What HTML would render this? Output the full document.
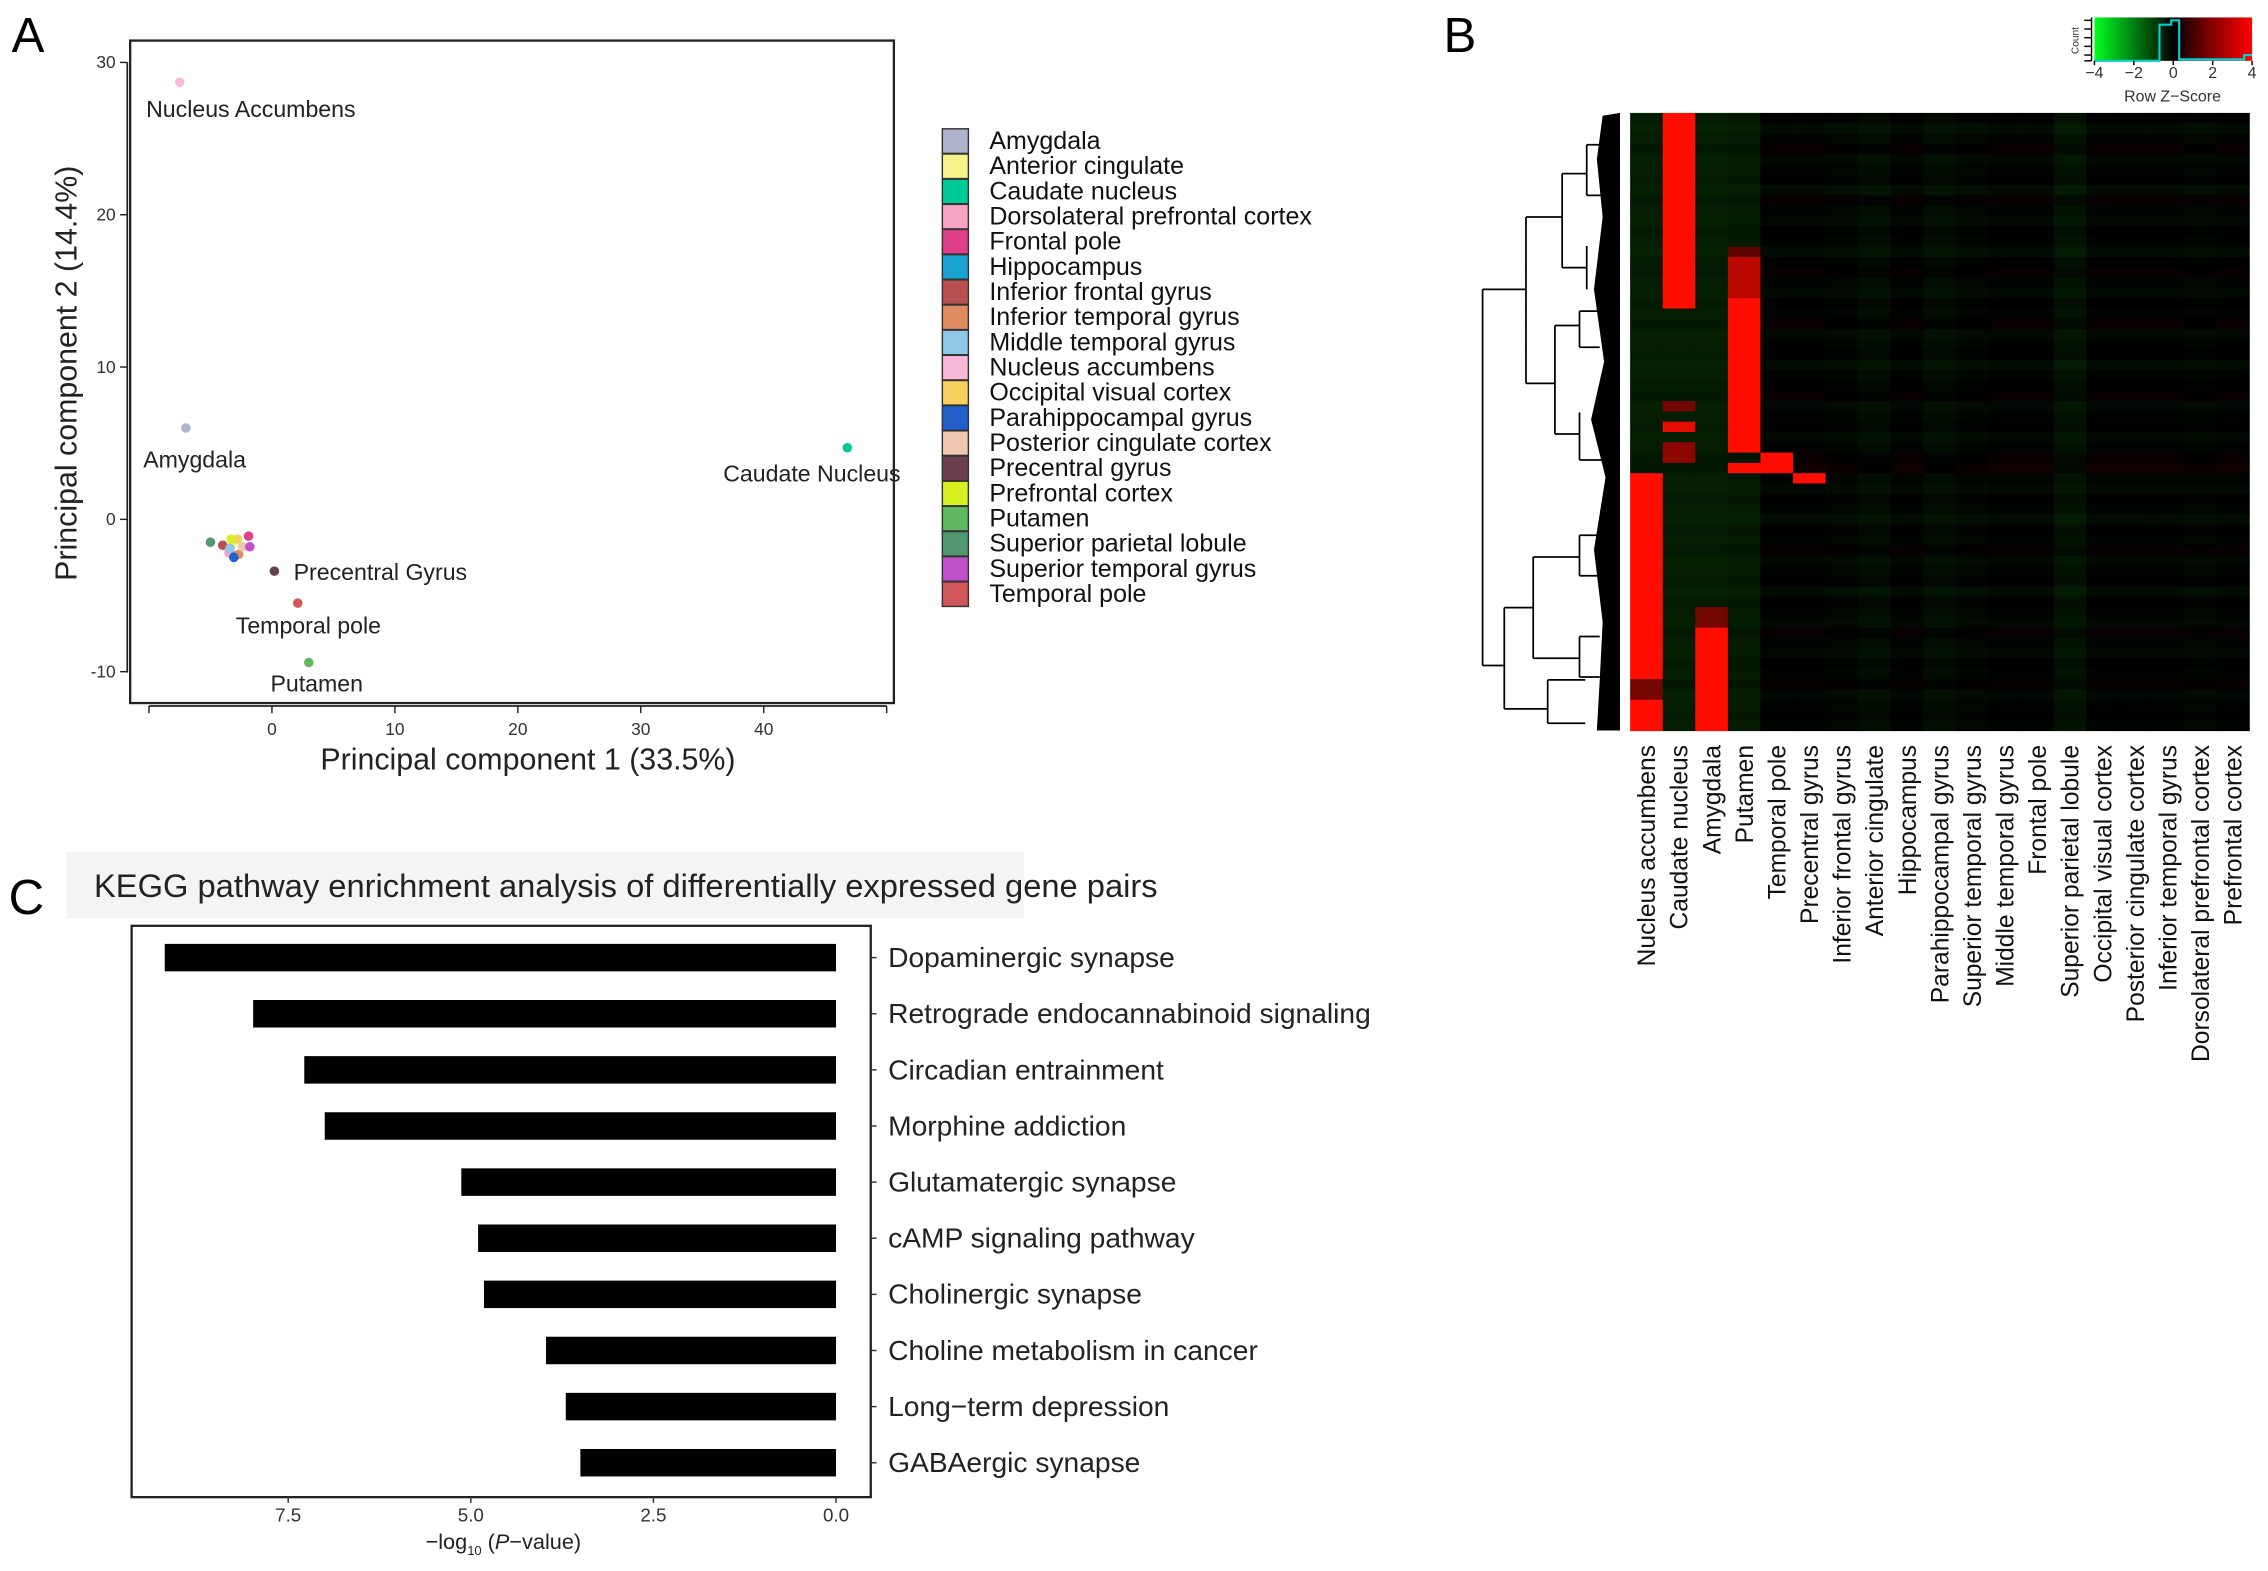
<!DOCTYPE html>
<html><head><meta charset="utf-8"><style>
html,body{margin:0;padding:0;background:#fff}
svg{display:block;font-family:"Liberation Sans",sans-serif}
</style></head><body>
<svg id="fig" width="2268" height="1571" viewBox="0 0 1568 1086" xmlns="http://www.w3.org/2000/svg">
<rect width="1568" height="1086" fill="#fff"/>
<text x="8" y="36" font-size="34">A</text>
<text x="998" y="36" font-size="34">B</text>
<text x="6" y="632" font-size="34">C</text>
<g id="pca"></g>
<g id="legend"></g>
<g id="heat"></g>
<g id="kegg"></g>
</svg>
<script>
// ---------- Panel A data ----------
const regions = ["Amygdala","Anterior cingulate","Caudate nucleus","Dorsolateral prefrontal cortex","Frontal pole","Hippocampus","Inferior frontal gyrus","Inferior temporal gyrus","Middle temporal gyrus","Nucleus accumbens","Occipital visual cortex","Parahippocampal gyrus","Posterior cingulate cortex","Precentral gyrus","Prefrontal cortex","Putamen","Superior parietal lobule","Superior temporal gyrus","Temporal pole"];
const regionColors = ["#b0b3cc","#f7f28a","#00c896","#f7a3c4","#e0408a","#1aa3d1","#b85050","#e08a60","#90c8ea","#f8b8d8","#f8d060","#2060c8","#f0c8b0","#6a4050","#d8f020","#60b860","#509870","#c050c8","#d05858"];
const pc1 = [-7,-3.2,46.8,-3.5,-1.9,-3.0,-4.0,-2.7,-3.4,-7.5,-2.8,-3.1,-2.4,0.2,-3.3,3.0,-5.0,-1.8,2.1];
const pc2 = [6,-1.6,4.7,-2.2,-1.1,-2.4,-1.7,-2.3,-1.9,28.7,-1.3,-2.5,-1.8,-3.4,-1.3,-9.4,-1.5,-1.8,-5.5];
const pcXTicks = [0,10,20,30,40];
const pcYTicks = [-10,0,10,20,30];
const pointLabels = [["Nucleus Accumbens",101,81],["Amygdala",99,323],["Caudate Nucleus",500,333],["Precentral Gyrus",203,401],["Temporal pole",163,438],["Putamen",187,478]];
// ---------- Panel B data ----------
const heatCols = ["Nucleus accumbens","Caudate nucleus","Amygdala","Putamen","Temporal pole","Precentral gyrus","Inferior frontal gyrus","Anterior cingulate","Hippocampus","Parahippocampal gyrus","Superior temporal gyrus","Middle temporal gyrus","Frontal pole","Superior parietal lobule","Occipital visual cortex","Posterior cingulate cortex","Inferior temporal gyrus","Dorsolateral prefrontal cortex","Prefrontal cortex"];
const nRows = 60;
const colBase = [-0.45,-0.45,-0.45,-0.4,-0.05,-0.05,-0.1,-0.2,-0.05,-0.2,-0.1,-0.05,-0.05,-0.3,-0.05,-0.05,-0.05,-0.1,-0.05];
const rowShift = [0.1,-0.2,0,0.2,-0.1,0,0.1,-0.2,0.2,0,-0.1,0.1,0,-0.2,0.1,0.2,0,-0.1,0.1,0,0.2,-0.1,0,0.1,-0.2,0,0.1,0.2,-0.1,0,0.1,-0.1,0,0.2,0.3,0,-0.1,0.1,0,-0.2,0.1,0,0.2,-0.1,0,0.1,-0.2,0.1,0,-0.1,0.2,0,-0.1,0.1,0,0.2,-0.1,0,0.1,0];
// [column, startRow, endRow(inclusive), z]
const highBlocks = [[1,0,17,4],[1,18,18,3],[3,13,13,0.8],[3,14,17,1.6],[3,18,32,4],[1,28,28,1],[1,30,30,2],[1,32,33,1.2],[4,33,34,4],[5,35,35,3],[3,34,34,3],[0,35,59,4],[0,53,54,2.5],[0,55,56,1],[0,57,58,2.5],[2,48,49,1],[2,50,59,4],[2,51,52,2.5]];
const zTicks = [-4,-2,0,2,4];
// ---------- Panel C data ----------
const pathways = ["Dopaminergic synapse","Retrograde endocannabinoid signaling","Circadian entrainment","Morphine addiction","Glutamatergic synapse","cAMP signaling pathway","Cholinergic synapse","Choline metabolism in cancer","Long\u2212term depression","GABAergic synapse"];
const negLogP = [9.19,7.98,7.28,7.0,5.13,4.9,4.82,3.97,3.7,3.5];
const keggTicks = [7.5,5.0,2.5,0.0];

const NS="http://www.w3.org/2000/svg";
function mk(parent,tag,attrs,text){const e=document.createElementNS(NS,tag);for(const k in attrs)e.setAttribute(k,attrs[k]);if(text!==undefined)e.textContent=text;parent.appendChild(e);return e;}

// ----- Panel A -----
const pca=document.getElementById('pca');
const ax=v=>188+v*8.5, ay=v=>359-v*10.53;
let fr=mk(pca,'rect',{x:90,y:28,width:528,height:458,fill:'none',stroke:'#222','stroke-width':1.6});


mk(pca,'line',{x1:103,y1:488,x2:613,y2:488,stroke:'#222','stroke-width':1.2});
mk(pca,'line',{x1:88,y1:43,x2:88,y2:465,stroke:'#222','stroke-width':1.2});
[-10].concat(pcXTicks,[50]).forEach(v=>{mk(pca,'line',{x1:ax(v),y1:488,x2:ax(v),y2:493,stroke:'#222'});});
pcXTicks.forEach(v=>{const t=mk(pca,'text',{x:ax(v),y:508,'font-size':12,'text-anchor':'middle',fill:'#333'},v);

});
pcYTicks.forEach(v=>{mk(pca,'line',{x1:83,y1:ay(v),x2:88,y2:ay(v),stroke:'#222'});const t=mk(pca,'text',{x:80,y:ay(v)+4,'font-size':12,'text-anchor':'end',fill:'#333'},v);

});
let xt=mk(pca,'text',{x:365,y:532,'font-size':21,'text-anchor':'middle',fill:'#222'},'Principal component 1 (33.5%)');


let yt=mk(pca,'text',{x:0,y:0,'font-size':21,'text-anchor':'middle',fill:'#222',transform:'translate(53,258) rotate(-90)'},'Principal component 2 (14.4%)');


regions.forEach((r,i)=>{const c=mk(pca,'circle',{cx:ax(pc1[i]),cy:ay(pc2[i]),r:3.3,fill:regionColors[i]});

});
pointLabels.forEach(p=>{const t=mk(pca,'text',{x:p[1],y:p[2],'font-size':16,fill:'#222'},p[0]);

});
// legend
const lg=document.getElementById('legend');
regions.forEach((r,i)=>{const y=89+i*17.4;
const s=mk(lg,'rect',{x:651.5,y:y,width:18,height:17,fill:regionColors[i],stroke:'#333','stroke-width':1});


const t=mk(lg,'text',{x:684,y:y+14,'font-size':17.3,fill:'#111'},r);

});

// ----- Panel B -----
const hg=document.getElementById('heat');
const hx0=1127,hx1=1555,hy0=78,hy1=505;
const cw=(hx1-hx0)/heatCols.length, rh=(hy1-hy0)/nRows;
function zcol(z){z=Math.max(-4,Math.min(4,z));if(z>=0){const r=Math.round(255*Math.min(1,z/2.2));return `rgb(${r},${Math.round(r*0.05)},0)`;}const g=Math.round(255*(-z/4));return `rgb(${Math.round(g*0.15)},${g},${Math.round(g*0.1)})`;}
const M=[];for(let r=0;r<nRows;r++){M.push(heatCols.map((c,j)=>colBase[j]+rowShift[r]*(j<4?0.3:0.6)));}
highBlocks.forEach(b=>{for(let r=b[1];r<=b[2];r++)M[r][b[0]]=b[3];});
for(let r=0;r<nRows;r++)for(let j=0;j<heatCols.length;j++){
const c=mk(hg,'rect',{x:hx0+j*cw,y:hy0+r*rh,width:cw+0.4,height:rh+0.4,fill:zcol(M[r][j])});

}
heatCols.forEach((n,j)=>{const t=mk(hg,'text',{x:0,y:0,'font-size':17,'text-anchor':'end',fill:'#111',transform:`translate(${hx0+(j+0.5)*cw+6},515) rotate(-90)`},n);

});
// dendrogram
const dg=mk(hg,'g',{fill:'none',stroke:'#000','stroke-width':1.2});


mk(hg,'path',{d:'M1108,80 L1120,78 L1120,505 L1104,505 L1106,470 L1108,430 L1102,380 L1110,330 L1100,290 L1109,250 L1102,200 L1108,150 L1104,110 Z',fill:'#000'});
mk(dg,'path',{d:'M1025,200 V460 M1025,200 H1055 M1025,460 H1040 M1055,150 V265 M1055,150 H1080 M1055,265 H1075 M1075,225 V300 M1075,225 H1092 M1075,300 H1092 M1080,120 V185 M1080,120 H1097 M1080,185 H1097 M1040,420 V490 M1040,420 H1060 M1040,490 H1070 M1060,385 V455 M1060,385 H1092 M1060,455 H1092 M1070,470 V500 M1070,470 H1096 M1070,500 H1096 M1092,215 V240 M1092,285 V318 M1097,100 V135 M1097,170 V200 M1092,370 V398 M1092,440 V468 M1092,318 H1112 M1092,215 H1106 M1092,240 H1106 M1097,100 H1108 M1097,135 H1108 M1092,370 H1106 M1092,398 H1106 M1092,440 H1106 M1092,468 H1106'});
// color key
const kg=mk(hg,'g',{});


const defs=mk(kg,'defs',{});const gr=mk(defs,'linearGradient',{id:'zg',x1:0,x2:1,y1:0,y2:0});
mk(gr,'stop',{offset:0,'stop-color':'#00ff20'});mk(gr,'stop',{offset:0.5,'stop-color':'#000'});mk(gr,'stop',{offset:0.75,'stop-color':'#8a0000'});mk(gr,'stop',{offset:1,'stop-color':'#ff0000'});
const kx=z=>1448+(z+4)/8*109;
mk(kg,'rect',{x:1448,y:12,width:109,height:30,fill:'url(#zg)'});
mk(kg,'path',{d:`M1448,42 H${kx(-0.7)} V17 H${kx(-0.1)} V14 H${kx(0.3)} V41 H${kx(3.6)} V38 H1557`,fill:'none',stroke:'#00d0d0','stroke-width':1.5});
mk(kg,'line',{x1:1446,y1:12,x2:1446,y2:42,stroke:'#000'});
[14,20,26,32,38,42].forEach(y=>mk(kg,'line',{x1:1441,y1:y,x2:1446,y2:y,stroke:'#000'}));
zTicks.forEach(z=>{mk(kg,'line',{x1:kx(z),y1:42,x2:kx(z),y2:45,stroke:'#000'});const t=mk(kg,'text',{x:kx(z),y:54,'font-size':11,'text-anchor':'middle',fill:'#333'},z<0?'\u2212'+(-z):z);

});
mk(kg,'text',{x:1502,y:70,'font-size':11,'text-anchor':'middle',fill:'#333'},'Row Z\u2212Score');
mk(kg,'text',{x:0,y:0,'font-size':7,'text-anchor':'middle',fill:'#333',transform:'translate(1437,28) rotate(-90)'},'Count');

// ----- Panel C -----
const kc=document.getElementById('kegg');
let tb=mk(kc,'rect',{x:46,y:589,width:662,height:46,fill:'#f4f4f4'});


let tt=mk(kc,'text',{x:65,y:620,'font-size':22.6,fill:'#222'},'KEGG pathway enrichment analysis of differentially expressed gene pairs');


const bx=v=>578-v*50.5;
mk(kc,'rect',{x:91,y:640,width:511,height:395,fill:'none',stroke:'#222','stroke-width':1.6});
pathways.forEach((p,i)=>{const cy=662+i*38.8;
const b=mk(kc,'rect',{x:bx(negLogP[i]),y:cy-9.5,width:bx(0)-bx(negLogP[i]),height:19,fill:'#000'});


mk(kc,'line',{x1:602,y1:cy,x2:606,y2:cy,stroke:'#333'});
const t=mk(kc,'text',{x:614,y:cy+6.5,'font-size':19.5,fill:'#222'},p);

});
keggTicks.forEach(v=>{mk(kc,'line',{x1:bx(v),y1:1035,x2:bx(v),y2:1039,stroke:'#333'});const t=mk(kc,'text',{x:bx(v),y:1052,'font-size':13,'text-anchor':'middle',fill:'#333'},v.toFixed(1));

});
const xl=mk(kc,'text',{x:348,y:1071,'font-size':15,'text-anchor':'middle',fill:'#222'});


xl.innerHTML='\u2212log<tspan font-size="9" dy="4">10</tspan><tspan dy="-4"> (</tspan><tspan font-style="italic">P</tspan>\u2212value)';
</script>
</body></html>
